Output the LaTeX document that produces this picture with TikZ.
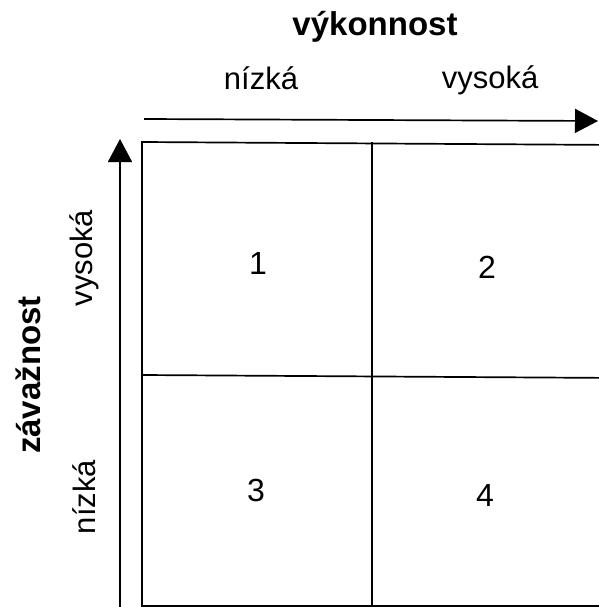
\documentclass[tikz,border=0pt]{standalone}
\usepackage{fontspec}
\setmainfont{Liberation Sans}
\usetikzlibrary{arrows.meta}
\begin{document}
\begin{tikzpicture}[x=1pt,y=-1pt,
  grid/.style={line width=1.7pt},
  axis/.style={line width=1.7pt,-{Triangle[length=23pt,width=24pt]}},
  lbl/.style={font=\fontsize{31}{31}\selectfont,inner sep=0pt},
  ttl/.style={font=\fontsize{33}{33}\selectfont\bfseries,inner sep=0pt},
  num/.style={font=\fontsize{32}{32}\selectfont,inner sep=0pt}]
\useasboundingbox (0,0) rectangle (598,607);
% quadrant grid (runs past the right edge)
\coordinate (tl) at (142,142);
\coordinate (bl) at (142,606);
\coordinate (tr) at (620,145);
\coordinate (br) at (620,606);
\coordinate (mt) at (372,142);
\coordinate (mb) at (372,606);
\coordinate (ml) at (142,375);
\coordinate (mr) at (620,378);
\draw[grid] (tr) -- (tl) -- (bl) -- (br);
\draw[grid] (mt) -- (mb);
\draw[grid] (ml) -- (mr);
% axes
\coordinate (hx0) at (144,119);
\coordinate (hx1) at (598,121);
\draw[axis] (hx0) -- (hx1);
\coordinate (vy0) at (120,620);
\coordinate (vy1) at (120,139);
\draw[axis] (vy0) -- (vy1);
% axis titles and levels
\node[ttl] (perf) at (375,27) {výkonnost};
\node[lbl] (plow) at (261,78) {nízká};
\node[lbl] (phigh) at (490,80) {vysoká};
\node[ttl,rotate=90] (sev) at (28,375) {závažnost};
\node[lbl,rotate=90] (shigh) at (84,258) {vysoká};
\node[lbl,rotate=90] (slow) at (84,497) {nízká};
% quadrant numbers
\node[num] (q1) at (258,263) {1};
\node[num] (q2) at (487,267) {2};
\node[num] (q3) at (256,490) {3};
\node[num] (q4) at (485,495) {4};
\end{tikzpicture}
\end{document}
